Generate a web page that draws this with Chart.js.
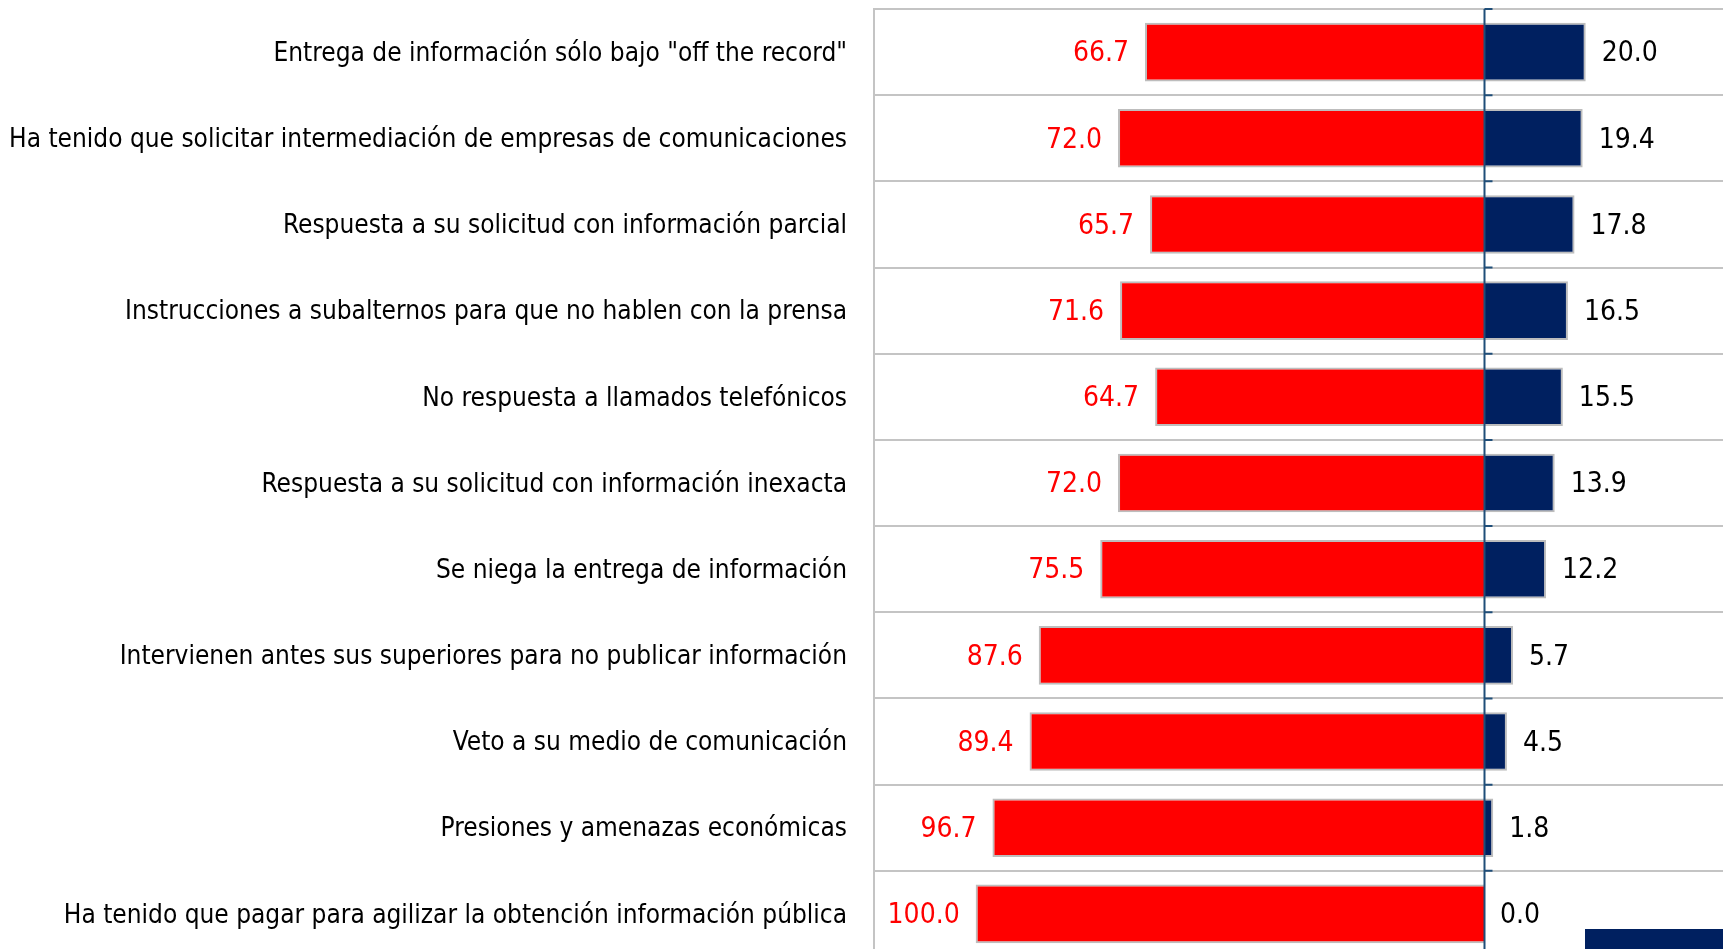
<!DOCTYPE html>
<html>
<head>
<meta charset="utf-8">
<script src="https://cdn.jsdelivr.net/npm/chart.js@4"></script>
<style>
  html, body { margin:0; padding:0; background:#fff; overflow:hidden; }
  #wrap { width:1723px; height:960px; position:relative; }
</style>
</head>
<body>
<div id="wrap"><canvas id="c" width="1723" height="960"></canvas></div>
<script>
// categories, top to bottom
const categories = [
  'Entrega de información sólo bajo "off the record"',
  'Ha tenido que solicitar intermediación de empresas de comunicaciones',
  'Respuesta a su solicitud con información parcial',
  'Instrucciones a subalternos para que no hablen con la prensa',
  'No respuesta a llamados telefónicos',
  'Respuesta a su solicitud con información inexacta',
  'Se niega la entrega de información',
  'Intervienen antes sus superiores para no publicar información',
  'Veto a su medio de comunicación',
  'Presiones y amenazas económicas',
  'Ha tenido que pagar para agilizar la obtención información pública'
];
const redValues  = [66.7, 72.0, 65.7, 71.6, 64.7, 72.0, 75.5, 87.6, 89.4, 96.7, 100.0];
const blueValues = [20.0, 19.4, 17.8, 16.5, 15.5, 13.9, 12.2, 5.7, 4.5, 1.8, 0.0];

const FONT = '"DejaVu Sans Condensed", "DejaVu Sans", sans-serif';
const RED = '#ff0000', NAVY = '#002060', GRID = '#c4c4c4';

// value labels next to each bar end
const valueLabels = {
  id: 'valueLabels',
  afterDatasetsDraw(chart){
    const {ctx, scales:{x}} = chart;
    ctx.save();
    ctx.font = '28px ' + FONT;
    ctx.textBaseline = 'middle';
    chart.getDatasetMeta(0).data.forEach((bar, i) => {
      ctx.fillStyle = RED; ctx.textAlign = 'right';
      ctx.fillText(redValues[i].toFixed(1), x.getPixelForValue(-redValues[i]) - 16, bar.y + 2);
    });
    chart.getDatasetMeta(1).data.forEach((bar, i) => {
      ctx.fillStyle = '#000'; ctx.textAlign = 'left';
      ctx.fillText(blueValues[i].toFixed(1), x.getPixelForValue(blueValues[i]) + 16, bar.y + 2);
    });
    ctx.restore();
  }
};

// zero line with little ticks on category boundaries, plus cut-off legend swatch
const centerAxis = {
  id: 'centerAxis',
  afterDatasetsDraw(chart){
    const {ctx, chartArea, scales:{x}} = chart;
    const x0 = Math.round(x.getPixelForValue(0)) + 0.5;
    ctx.save();
    ctx.strokeStyle = '#1f4e79';
    ctx.lineWidth = 2;
    ctx.beginPath();
    ctx.moveTo(x0, chartArea.top); ctx.lineTo(x0, chartArea.bottom);
    const step = (chartArea.bottom - chartArea.top) / categories.length;
    for(let i=0;i<=categories.length;i++){
      const yy = chartArea.top + i*step;
      ctx.moveTo(x0, yy); ctx.lineTo(x0 + 8, yy);
    }
    ctx.stroke();
    ctx.fillStyle = NAVY;
    ctx.fillRect(1585, 929, 140, 30);
    ctx.restore();
  }
};

new Chart(document.getElementById('c'), {
  type: 'bar',
  data: {
    labels: categories,
    datasets: [
      { data: redValues.map(v => -v), backgroundColor: RED, borderColor: '#bdbdbd', borderWidth: 2,
        barPercentage: 0.68, categoryPercentage: 1 },
      { data: blueValues, backgroundColor: NAVY, borderColor: '#bdbdbd', borderWidth: 2,
        barPercentage: 0.68, categoryPercentage: 1 }
    ]
  },
  options: {
    indexAxis: 'y',
    responsive: false,
    animation: false,
    layout: { padding: { top: 9, right: 0, bottom: 3, left: 0 } },
    plugins: { legend: { display: false }, tooltip: { enabled: false } },
    scales: {
      x: { stacked: true, min: -120, max: 47, display: false },
      y: {
        stacked: true,
        afterFit(s){ s.width = 874; s.paddingTop = 0; s.paddingBottom = 0; },
        border: { display: true, color: GRID, width: 2 },
        grid: { color: GRID, lineWidth: 2, drawTicks: false },
        ticks: { color: '#000', padding: 27, labelOffset: 2, font: { family: FONT, size: 26 } }
      }
    }
  },
  plugins: [valueLabels, centerAxis]
});
</script>
</body>
</html>
